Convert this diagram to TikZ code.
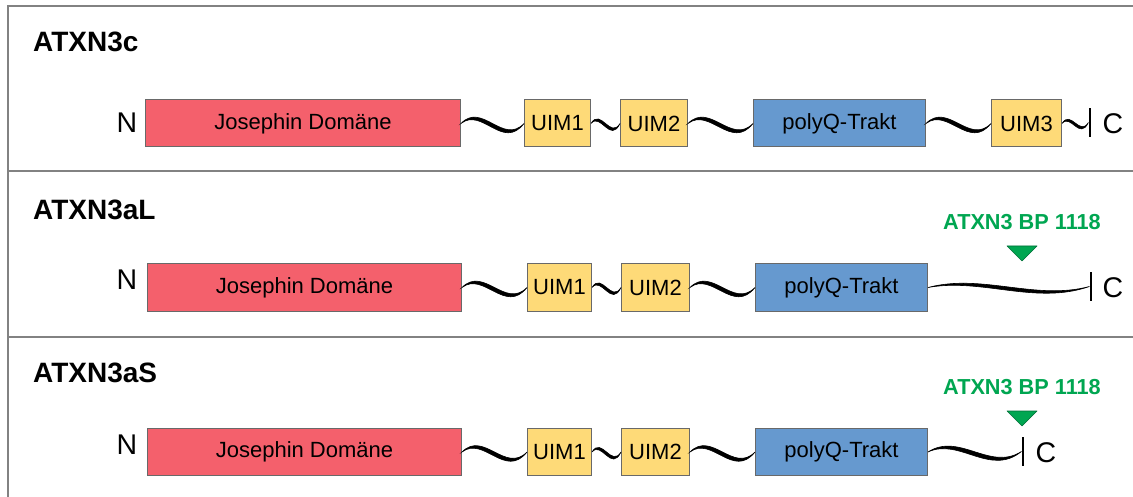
\documentclass[tikz,border=0pt]{standalone}
\usepackage{fontspec}
\setmainfont{Liberation Sans}
\usetikzlibrary{calc}

\definecolor{josred}{RGB}{244,96,108}
\definecolor{uimyel}{RGB}{254,218,120}
\definecolor{polyblue}{RGB}{102,153,207}
\definecolor{bpgreen}{RGB}{0,166,81}
\definecolor{bpdark}{RGB}{0,110,55}
\definecolor{edgegray}{RGB}{105,105,105}
\definecolor{framegray}{RGB}{130,130,130}

\tikzset{
  frame/.style={draw=framegray, line width=2pt},
  dom/.style={draw=edgegray, line width=1pt, minimum height=47pt, inner sep=0pt,
    anchor=west, font=\fontsize{22}{26}\selectfont},
  josephin/.style={dom, fill=josred},
  uim/.style={dom, fill=uimyel},
  polyq/.style={dom, fill=polyblue},
  title/.style={anchor=west, inner sep=0pt, font=\bfseries\fontsize{28}{31}\selectfont},
  term/.style={inner sep=0pt, font=\fontsize{28.5}{31}\selectfont},
  cbar/.style={fill=black, inner sep=0pt, minimum width=2.8pt, minimum height=29pt},
  bplabel/.style={inner sep=0pt, text=bpgreen, font=\bfseries\fontsize{21.7}{24}\selectfont},
  bpmark/.style={fill=bpgreen, draw=bpdark, line width=0.6pt, line join=round},
  wire/.style={fill=black, draw=black, line width=0.6pt},
  % tapered tilde-shaped linker: #1 = swing, #2 = stroke thickness
  linker/.style 2 args={to path={
    let \p1=(\tikztostart), \p2=(\tikztotarget),
        \p3=($(\p1)!0.3333!(\p2)$), \p4=($(\p1)!0.6667!(\p2)$) in
    (\p1) .. controls (\x3,\y3+#1) and (\x4,\y4-#1) .. (\p2)
          .. controls (\x4,\y4-#1-#2) and (\x3,\y3+#1-#2) .. (\p1) -- cycle}}
}

\begin{document}
\begin{tikzpicture}[x=1pt, y=-1pt]
\useasboundingbox (0,0) rectangle (1133,497);

% panel frame
\draw[frame] (1133,6) -- (8,6) -- (8,497);
\draw[frame] (8,171) -- (1133,171);
\draw[frame] (8,337) -- (1133,337);

% ---------- ATXN3c ----------
\node[title] (t1) at (33,42) {ATXN3c};
\node[term] (n1) at (127,123) {N};
\node[josephin, minimum width=315pt] (j1) at (145,123.5) {Josephin Domäne};
\node[uim, minimum width=66pt] (ua1) at (524,123.5) {UIM1};
\node[uim, minimum width=67pt] (ub1) at (620,123.5) {UIM2};
\node[polyq, minimum width=172pt] (p1) at (753,123.5) {polyQ-Trakt};
\node[uim, minimum width=70pt] (uc1) at (991,123.5) {UIM3};
\node[cbar] (b1) at (1090,122.5) {};
\node[term] (c1) at (1113,124) {C};
\filldraw[wire] (j1.east) to[linker={22pt}{5.5pt}] (ua1.west);
\filldraw[wire] (ua1.east) to[linker={16pt}{4.5pt}] (ub1.west);
\filldraw[wire] (ub1.east) to[linker={22pt}{5.5pt}] (p1.west);
\filldraw[wire] (p1.east) to[linker={22pt}{5.5pt}] (uc1.west);
\filldraw[wire] (uc1.east) to[linker={14pt}{4pt}] (b1.west);

% ---------- ATXN3aL ----------
\node[title] (t2) at (33,210) {ATXN3aL};
\node[term] (n2) at (127,280) {N};
\node[josephin, minimum width=314pt] (j2) at (147,287.5) {Josephin Domäne};
\node[uim, minimum width=64pt] (ua2) at (527,287.5) {UIM1};
\node[uim, minimum width=68pt] (ub2) at (621,287.5) {UIM2};
\node[polyq, minimum width=172pt] (p2) at (755,287.5) {polyQ-Trakt};
\node[cbar] (b2) at (1091,286.5) {};
\node[term] (c2) at (1113,288) {C};
\filldraw[wire] (j2.east) to[linker={22pt}{5.5pt}] (ua2.west);
\filldraw[wire] (ua2.east) to[linker={16pt}{4.5pt}] (ub2.west);
\filldraw[wire] (ub2.east) to[linker={22pt}{5.5pt}] (p2.west);
\filldraw[wire] (p2.east) to[linker={14pt}{4.5pt}] (b2.west);
\node[bplabel] (l2) at (1022,222) {ATXN3 BP 1118};
\filldraw[bpmark] (1007,246) -- (1037,246) -- (1022,261) -- cycle;

% ---------- ATXN3aS ----------
\node[title] (t3) at (33,373) {ATXN3aS};
\node[term] (n3) at (127,445) {N};
\node[josephin, minimum width=314pt] (j3) at (147,452) {Josephin Domäne};
\node[uim, minimum width=64pt] (ua3) at (527,452) {UIM1};
\node[uim, minimum width=68pt] (ub3) at (621,452) {UIM2};
\node[polyq, minimum width=172pt] (p3) at (755,452) {polyQ-Trakt};
\node[cbar] (b3) at (1023,451.5) {};
\node[term] (c3) at (1046,453) {C};
\filldraw[wire] (j3.east) to[linker={22pt}{5.5pt}] (ua3.west);
\filldraw[wire] (ua3.east) to[linker={16pt}{4.5pt}] (ub3.west);
\filldraw[wire] (ub3.east) to[linker={22pt}{5.5pt}] (p3.west);
\filldraw[wire] (p3.east) to[linker={20pt}{5.5pt}] (b3.west);
\node[bplabel] (l3) at (1022,387) {ATXN3 BP 1118};
\filldraw[bpmark] (1007,411) -- (1037,411) -- (1022,426) -- cycle;
\end{tikzpicture}
\end{document}
